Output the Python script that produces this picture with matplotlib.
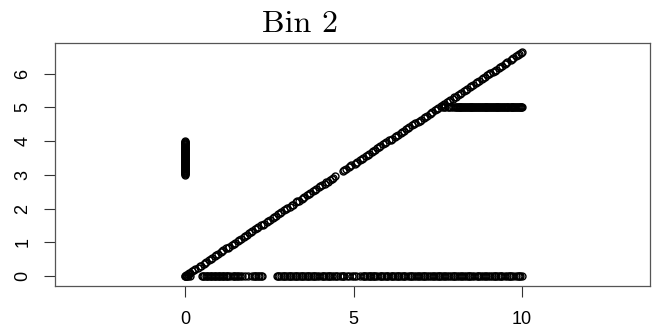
import matplotlib
matplotlib.use("Agg")
import matplotlib.pyplot as plt

# ---- data ----
title = "Bin 2"

diag_x = [0.00, 0.04, 0.09, 0.15, 0.22, 0.31, 0.38, 0.47, 0.55, 0.63, 0.72, 0.80, 0.89, 0.97,
          1.06, 1.14, 1.23, 1.31, 1.40, 1.49, 1.57, 1.66, 1.74, 1.83, 1.91, 2.00, 2.09, 2.17,
          2.26, 2.34, 2.43, 2.51, 2.60, 2.69, 2.77, 2.86, 2.94, 3.03, 3.11, 3.20, 3.29, 3.37,
          3.46, 3.54, 3.63, 3.71, 3.80, 3.89, 3.97, 4.06, 4.14, 4.23, 4.31, 4.40, 4.46, 4.69,
          4.77, 4.86, 4.94, 5.03, 5.11, 5.20, 5.29, 5.37, 5.46, 5.54, 5.63, 5.71, 5.80, 5.89,
          5.97, 6.06, 6.14, 6.23, 6.31, 6.40, 6.49, 6.57, 6.66, 6.74, 6.83, 6.91, 7.00, 7.09,
          7.17, 7.26, 7.34, 7.43, 7.51, 7.60, 7.69, 7.77, 7.86, 7.94, 8.03, 8.11, 8.20, 8.29,
          8.37, 8.46, 8.54, 8.63, 8.71, 8.80, 8.89, 8.97, 9.06, 9.14, 9.23, 9.31, 9.40, 9.49,
          9.57, 9.66, 9.74, 9.83, 9.91, 10.00,
          0.02, 0.12, 0.26, 0.43, 0.59, 0.76, 0.93, 1.10, 1.27, 1.44, 1.61, 1.79, 1.96, 2.13,
          2.30, 2.47, 2.64, 2.82, 2.99, 3.16, 3.33, 3.50, 3.67, 3.85, 4.02, 4.19, 4.36, 4.73,
          4.90, 5.07, 5.24, 5.42, 5.59, 5.76, 5.93, 6.10, 6.27, 6.45, 6.62, 6.79, 6.96, 7.13,
          7.30, 7.47, 7.65, 7.82, 7.99, 8.16, 8.33, 8.50, 8.67, 8.85, 9.02, 9.19, 9.36, 9.53,
          9.70, 9.87, 9.96]
diag_y = [0.00, 0.03, 0.06, 0.10, 0.15, 0.21, 0.25, 0.31, 0.36, 0.42, 0.48, 0.53, 0.59, 0.64,
          0.70, 0.76, 0.82, 0.87, 0.93, 0.99, 1.04, 1.10, 1.15, 1.21, 1.27, 1.33, 1.39, 1.44,
          1.50, 1.55, 1.61, 1.66, 1.72, 1.78, 1.84, 1.90, 1.95, 2.01, 2.06, 2.12, 2.18, 2.23,
          2.29, 2.35, 2.41, 2.46, 2.52, 2.58, 2.63, 2.69, 2.74, 2.80, 2.86, 2.92, 2.96, 3.11,
          3.16, 3.22, 3.28, 3.33, 3.39, 3.45, 3.51, 3.56, 3.62, 3.67, 3.73, 3.79, 3.85, 3.91,
          3.96, 4.02, 4.07, 4.13, 4.18, 4.24, 4.30, 4.36, 4.42, 4.47, 4.53, 4.58, 4.64, 4.70,
          4.75, 4.81, 4.87, 4.93, 4.98, 5.04, 5.10, 5.15, 5.21, 5.26, 5.32, 5.38, 5.44, 5.50,
          5.55, 5.61, 5.66, 5.72, 5.77, 5.83, 5.89, 5.95, 6.01, 6.06, 6.12, 6.17, 6.23, 6.29,
          6.34, 6.40, 6.46, 6.52, 6.57, 6.63,
          0.01, 0.08, 0.17, 0.29, 0.39, 0.50, 0.62, 0.73, 0.84, 0.95, 1.07, 1.19, 1.30, 1.41,
          1.52, 1.64, 1.75, 1.87, 1.98, 2.10, 2.21, 2.32, 2.43, 2.55, 2.67, 2.78, 2.89, 3.14,
          3.25, 3.36, 3.47, 3.59, 3.71, 3.82, 3.93, 4.04, 4.16, 4.28, 4.39, 4.50, 4.61, 4.73,
          4.84, 4.95, 5.07, 5.18, 5.30, 5.41, 5.52, 5.64, 5.75, 5.87, 5.98, 6.09, 6.21, 6.32,
          6.43, 6.54, 6.60]

cap_x = [7.62, 7.68, 7.73, 7.79, 7.84, 7.90, 7.95, 8.01, 8.06, 8.12, 8.17, 8.23, 8.28, 8.34,
         8.39, 8.45, 8.50, 8.56, 8.61, 8.67, 8.72, 8.78, 8.83, 8.89, 8.94, 9.00, 9.05, 9.11,
         9.16, 9.22, 9.27, 9.33, 9.38, 9.44, 9.49, 9.55, 9.60, 9.66, 9.71, 9.77, 9.82, 9.88,
         9.93, 9.98, 10.00,
         8.04, 8.09, 8.15, 8.20, 8.26, 8.31, 8.37, 8.42, 8.48, 8.53, 8.59, 8.64, 8.70, 8.75,
         8.81, 8.86, 8.92, 8.97, 9.03, 9.08, 9.14, 9.19, 9.25, 9.30, 9.36, 9.41, 9.47, 9.52,
         9.58, 9.63, 9.69, 9.74, 9.80, 9.85, 9.91, 9.96]
cap_level = 5.0

zero_x = [0.00, 0.03, 0.06, 0.10, 0.14,
          0.50, 0.53, 0.56, 0.61, 0.64, 0.67, 0.74, 0.77, 0.80, 0.85, 0.88, 0.92, 0.98, 1.01,
          1.04, 1.10, 1.13, 1.17, 1.22, 1.25, 1.28, 1.34,
          1.42, 1.45, 1.48, 1.55, 1.58, 1.62, 1.70, 1.78, 1.88, 1.98, 2.05, 2.09, 2.12, 2.16,
          2.20, 2.24, 2.28,
          2.73, 2.76, 2.79, 2.85, 2.90, 2.94, 2.97, 3.03, 3.08, 3.11, 3.14, 3.21, 3.27, 3.30,
          3.33, 3.38, 3.45, 3.48, 3.51, 3.57, 3.63, 3.66, 3.68, 3.75, 3.81, 3.84, 3.87, 3.93,
          3.98, 4.05, 4.08, 4.11, 4.17, 4.23, 4.28, 4.31, 4.35, 4.41, 4.47, 4.51,
          4.60, 4.66, 4.69, 4.72, 4.80, 4.87, 4.95, 5.02, 5.08, 5.20, 5.27, 5.30, 5.33, 5.40,
          5.46, 5.49, 5.52, 5.58, 5.62, 5.65, 5.71, 5.78, 5.81, 5.84, 5.90, 5.97, 6.00, 6.03,
          6.10, 6.13, 6.16, 6.22, 6.29, 6.32, 6.35, 6.42, 6.48, 6.51, 6.54, 6.61, 6.67, 6.70,
          6.74, 6.80, 6.86, 6.90, 6.93, 6.99, 7.06, 7.09, 7.12, 7.18, 7.25, 7.31, 7.35, 7.38,
          7.44, 7.50, 7.54, 7.57, 7.63, 7.70, 7.73, 7.76, 7.82, 7.89, 7.95, 7.98, 8.02, 8.08,
          8.14, 8.18, 8.21, 8.27, 8.34, 8.40, 8.43, 8.46, 8.53, 8.59, 8.66, 8.69, 8.72, 8.78,
          8.85, 8.91, 8.94, 8.98, 9.04, 9.10, 9.17, 9.20, 9.23, 9.30, 9.36, 9.39, 9.42, 9.49,
          9.55, 9.62, 9.65, 9.68, 9.74, 9.81, 9.87, 9.90, 9.93, 10.00]
zero_level = 0.0

stack_level = 0.0
stack_y = [3.00, 3.02, 3.04, 3.06, 3.08, 3.10, 3.12, 3.14, 3.16, 3.18, 3.20, 3.22, 3.24, 3.26,
           3.28, 3.30, 3.32, 3.34, 3.36, 3.38, 3.40, 3.42, 3.44, 3.46, 3.48, 3.50, 3.52, 3.54,
           3.56, 3.58, 3.60, 3.62, 3.64, 3.66, 3.68, 3.70, 3.72, 3.74, 3.76, 3.78, 3.80, 3.82,
           3.84, 3.86, 3.88, 3.90, 3.92, 3.94, 3.96, 3.98, 4.00]

x_ticks = [0, 5, 10]
y_ticks = [0, 1, 2, 3, 4, 5, 6]

# ---- figure ----
W, H = 659, 332
fig = plt.figure(figsize=(W / 100, H / 100), dpi=100)
ax = fig.add_axes([55 / W, (H - 285.7) / H, (650 - 55) / W, (285.7 - 42.5) / H])

mk = dict(linestyle="none", marker="o", markersize=5.0, markerfacecolor="none",
          markeredgecolor="black", markeredgewidth=1.0)

ax.plot(zero_x, [zero_level] * len(zero_x), **mk)
ax.plot([stack_level] * len(stack_y), stack_y, **mk)
ax.plot(cap_x, [cap_level] * len(cap_x), **mk)
ax.plot(diag_x, diag_y, **mk)

ax.set_xlim(-3.86, 13.80)
ax.set_ylim(-0.288, 6.925)

ax.set_xticks(x_ticks)
ax.set_yticks(y_ticks)
ax.set_xticklabels([str(v) for v in x_ticks], fontfamily="Liberation Sans", fontsize=13)
ax.set_yticklabels([str(v) for v in y_ticks], fontfamily="Liberation Sans", fontsize=13,
                   rotation=90, va="center")
ax.tick_params(axis="both", direction="out", length=8, width=0.8, color="#333333")
ax.tick_params(axis="x", pad=10)
ax.tick_params(axis="y", pad=9)

for s in ax.spines.values():
    s.set_color("#555555")
    s.set_linewidth(0.9)

fig.text(300 / W, (H - 32) / H, title, ha="center", va="baseline",
         fontfamily="cmr10", fontsize=23)

fig.savefig("out.png", dpi=100)
